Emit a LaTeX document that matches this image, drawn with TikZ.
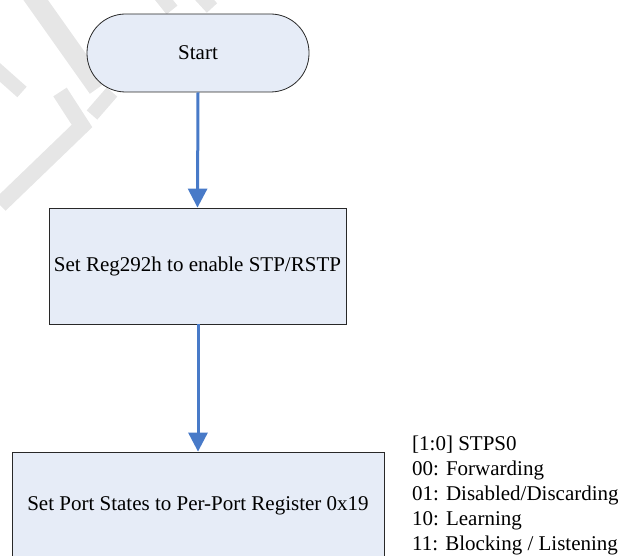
\documentclass[tikz,border=0pt]{standalone}
\usepackage{fontspec}
\setmainfont{Liberation Serif}
\usetikzlibrary{arrows.meta}
\definecolor{boxfill}{RGB}{230,236,247}
\definecolor{boxline}{RGB}{40,40,40}
\definecolor{arrowblue}{RGB}{72,122,200}
\definecolor{wmgray}{RGB}{230,230,230}
\tikzset{
  txt/.style={font=\fontsize{21pt}{25pt}\selectfont},
  procbox/.style={draw=boxline, line width=0.8pt, fill=boxfill, inner sep=0pt, txt},
  startbox/.style={procbox, rounded corners=38.5pt},
  flowarrow/.style={draw=arrowblue, line width=3pt, -{Triangle[width=19pt,length=19pt]}},
  wm/.style={draw=wmgray, line width=20pt},
}
\begin{document}
\begin{tikzpicture}[x=1pt, y=-1pt]
\useasboundingbox (0,0) rectangle (618,556);
\clip (0,0) rectangle (618,556);
% faint watermark
\draw[wm] (30,-8) -- (98,88);
\draw[wm, line width=14pt] (-5,68) -- (22,92);
\draw[wm, line width=16pt] (60,92) -- (82,126) -- (0,205);
\draw[wm, line width=14pt] (92,115) -- (112,92);
\draw[wm, line width=14pt] (160,-5) -- (172,10);
\draw[wm, line width=14pt] (200,-5) -- (212,8);
% nodes
\node[startbox, minimum width=222pt, minimum height=78pt] (start) at (198,53) {Start};
\node[procbox, minimum width=297pt, minimum height=116pt] (reg) at (197.5,266) {Set Reg292h to enable STP/RSTP};
\node[procbox, minimum width=372pt, minimum height=108pt] (port) at (198,506) {Set Port States to Per-Port Register 0x19};
% connectors
\draw[flowarrow] (start.south) -- (reg.north);
\draw[flowarrow] (reg.south -| port.north) -- (port.north);
% notes
\node[txt, anchor=base west, inner sep=0pt] (n1) at (412,450) {[1:0] STPS0};
\node[txt, anchor=base west, inner sep=0pt] (n2) at (412,475) {00: Forwarding};
\node[txt, anchor=base west, inner sep=0pt] (n3) at (412,500) {01: Disabled/Discarding};
\node[txt, anchor=base west, inner sep=0pt] (n4) at (412,525) {10: Learning};
\node[txt, anchor=base west, inner sep=0pt] (n5) at (412,550) {11: Blocking / Listening};
\end{tikzpicture}
\end{document}
